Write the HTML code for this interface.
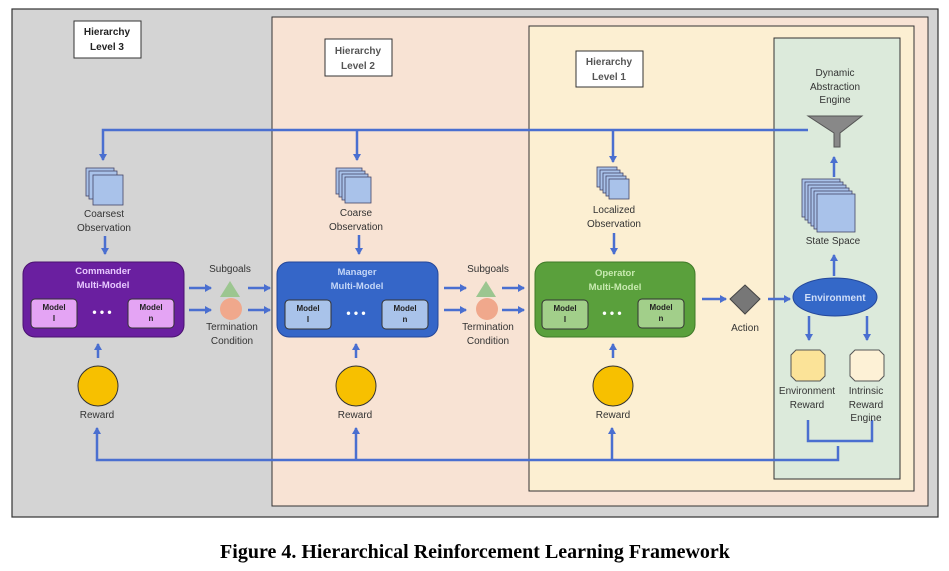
<!DOCTYPE html>
<html><head><style>body{margin:0;background:#fff}svg{display:block}text{font-family:"Liberation Sans",sans-serif}</style></head><body>
<svg width="949" height="571" viewBox="0 0 949 571" xmlns="http://www.w3.org/2000/svg">
<defs><marker id="a" markerWidth="8" markerHeight="8" refX="6" refY="4" orient="auto" markerUnits="userSpaceOnUse"><path d="M0,0 L7,4 L0,8 z" fill="#4a6fd0"/></marker></defs>
<rect x="12" y="9" width="926" height="508" fill="#d4d4d4" stroke="#333" stroke-width="1.2"/>
<rect x="272" y="17" width="656" height="489" fill="#f8e3d4" stroke="#333" stroke-width="1"/>
<rect x="529" y="26" width="385" height="465" fill="#fcefd2" stroke="#333" stroke-width="1"/>
<rect x="774" y="38" width="126" height="441" fill="#dceadb" stroke="#333" stroke-width="1"/>
<g font-size="10" font-weight="bold" text-anchor="middle" fill="#222">
<rect x="74" y="21" width="67" height="37" fill="#fff" stroke="#333"/><text x="107" y="35">Hierarchy</text><text x="107" y="50">Level 3</text>
<rect x="325" y="39" width="67" height="37" fill="#fff" stroke="#333"/><text x="358" y="54" fill="#555">Hierarchy</text><text x="358" y="69" fill="#555">Level 2</text>
<rect x="576" y="51" width="67" height="36" fill="#fff" stroke="#333"/><text x="609" y="65" fill="#555">Hierarchy</text><text x="609" y="80" fill="#555">Level 1</text>
</g>
<g stroke="#4a6fd0" stroke-width="2.5" fill="none">
<path d="M808,130 H103 V160" marker-end="url(#a)"/>
<path d="M357,130 V160" marker-end="url(#a)"/>
<path d="M613,130 V162" marker-end="url(#a)"/>
<path d="M838,446 V460 H97 V428" marker-end="url(#a)"/>
<path d="M808,420 V441 H872 V420"/>
<path d="M356,460 V428" marker-end="url(#a)"/>
<path d="M612,460 V428" marker-end="url(#a)"/>
<path d="M105,236 V254" marker-end="url(#a)"/><path d="M359,235 V254" marker-end="url(#a)"/><path d="M614,233 V254" marker-end="url(#a)"/>
<path d="M98,358 V344" marker-end="url(#a)"/><path d="M356,358 V344" marker-end="url(#a)"/><path d="M613,358 V344" marker-end="url(#a)"/>
<path d="M189,288 H211" marker-end="url(#a)"/><path d="M189,310 H211" marker-end="url(#a)"/>
<path d="M248,288 H270" marker-end="url(#a)"/><path d="M248,310 H270" marker-end="url(#a)"/>
<path d="M444,288 H466" marker-end="url(#a)"/><path d="M444,310 H466" marker-end="url(#a)"/>
<path d="M502,288 H524" marker-end="url(#a)"/><path d="M502,310 H524" marker-end="url(#a)"/>
<path d="M702,299 H726" marker-end="url(#a)"/><path d="M768,299 H790" marker-end="url(#a)"/>
<path d="M834,276 V255" marker-end="url(#a)"/><path d="M834,177 V157" marker-end="url(#a)"/>
<path d="M809,316 V340" marker-end="url(#a)"/><path d="M867,316 V340" marker-end="url(#a)"/>
</g>
<path d="M808,116 H862 L840,133 V147 L834,147 V133 Z" fill="#888" stroke="#555"/>
<g font-size="10" text-anchor="middle" fill="#333">
<text x="835" y="76">Dynamic</text><text x="835" y="90">Abstraction</text><text x="835" y="103">Engine</text>
<text x="104" y="217">Coarsest</text><text x="104" y="231">Observation</text>
<text x="356" y="216">Coarse</text><text x="356" y="230">Observation</text>
<text x="614" y="213">Localized</text><text x="614" y="227">Observation</text>
<text x="833" y="244">State Space</text>
<text x="230" y="272">Subgoals</text><text x="488" y="272">Subgoals</text>
<text x="232" y="330">Termination</text><text x="232" y="344">Condition</text>
<text x="488" y="330">Termination</text><text x="488" y="344">Condition</text>
<text x="745" y="331">Action</text>
<text x="97" y="418">Reward</text><text x="355" y="418">Reward</text><text x="613" y="418">Reward</text>
<text x="807" y="394">Environment</text><text x="807" y="408">Reward</text>
<text x="866" y="394">Intrinsic</text><text x="866" y="408">Reward</text><text x="866" y="421">Engine</text>
</g>
<g stroke="#446" stroke-width="0.8" fill="#a9c2ea">
<rect x="86" y="168" width="28" height="28"/><rect x="89" y="171" width="28" height="28"/><rect x="93" y="175" width="30" height="30"/>
<rect x="336" y="168" width="26" height="26"/><rect x="339" y="171" width="26" height="26"/><rect x="342" y="174" width="26" height="26"/><rect x="345" y="177" width="26" height="26"/>
<rect x="597" y="167" width="20" height="20"/><rect x="600" y="170" width="20" height="20"/><rect x="603" y="173" width="20" height="20"/><rect x="606" y="176" width="20" height="20"/><rect x="609" y="179" width="20" height="20"/>
<rect x="802" y="179" width="38" height="38"/><rect x="805" y="182" width="38" height="38"/><rect x="808" y="185" width="38" height="38"/><rect x="811" y="188" width="38" height="38"/><rect x="814" y="191" width="38" height="38"/><rect x="817" y="194" width="38" height="38"/>
</g>
<rect x="23" y="262" width="161" height="75" rx="12" fill="#6a1fa0" stroke="#4a1070"/>
<rect x="277" y="262" width="161" height="75" rx="12" fill="#3566c8" stroke="#24479a"/>
<rect x="535" y="262" width="160" height="75" rx="12" fill="#5aa03c" stroke="#3f7a28"/>
<g font-size="9.5" font-weight="bold" text-anchor="middle" fill="#e7c8ff">
<text x="103" y="274">Commander</text><text x="103" y="288">Multi-Model</text></g>
<g font-size="9.5" font-weight="bold" text-anchor="middle" fill="#c4d6f7"><text x="357" y="275">Manager</text><text x="357" y="289">Multi-Model</text></g>
<g font-size="9.5" font-weight="bold" text-anchor="middle" fill="#c8eab0"><text x="615" y="276">Operator</text><text x="615" y="290">Multi-Model</text></g>
<g stroke="#333" stroke-width="1">
<rect x="31" y="299" width="46" height="29" rx="4" fill="#e4a4f4"/><rect x="128" y="299" width="46" height="29" rx="4" fill="#e4a4f4"/>
<rect x="285" y="300" width="46" height="29" rx="4" fill="#a9c3ea"/><rect x="382" y="300" width="46" height="29" rx="4" fill="#a9c3ea"/>
<rect x="542" y="300" width="46" height="29" rx="4" fill="#a2cf8a"/><rect x="638" y="299" width="46" height="29" rx="4" fill="#a2cf8a"/>
</g>
<g font-size="8" font-weight="bold" text-anchor="middle" fill="#222">
<text x="54" y="310">Model</text><text x="54" y="321">I</text><text x="151" y="310">Model</text><text x="151" y="321">n</text>
<text x="308" y="311">Model</text><text x="308" y="322">I</text><text x="405" y="311">Model</text><text x="405" y="322">n</text>
<text x="565" y="311">Model</text><text x="565" y="322">I</text><text x="661" y="310">Model</text><text x="661" y="321">n</text>
</g>
<g font-size="12" font-weight="bold" text-anchor="middle" fill="#fff"><text x="102" y="316">• • •</text><text x="356" y="317">• • •</text><text x="612" y="317">• • •</text></g>
<path d="M220,297 L230,281 L240,297 Z" fill="#9cc690"/><circle cx="231" cy="309" r="11" fill="#f0a88c"/>
<path d="M476,297 L486,281 L496,297 Z" fill="#9cc690"/><circle cx="487" cy="309" r="11" fill="#f0a88c"/>
<path d="M745,285 L760,299 L745,314 L730,299 Z" fill="#777" stroke="#444"/>
<ellipse cx="835" cy="297" rx="42" ry="19" fill="#3468c8" stroke="#24479a"/>
<text x="835" y="301" font-size="10" text-anchor="middle" fill="#d0def8" font-weight="bold">Environment</text>
<g stroke="#333" stroke-width="1"><circle cx="98" cy="386" r="20" fill="#f7c000"/><circle cx="356" cy="386" r="20" fill="#f7c000"/><circle cx="613" cy="386" r="20" fill="#f7c000"/></g>
<path d="M796,350 H820 L825,355 V376 L820,381 H796 L791,376 V355 Z" fill="#fbe398" stroke="#555"/>
<path d="M855,350 H879 L884,355 V376 L879,381 H855 L850,376 V355 Z" fill="#fdf1d6" stroke="#555"/>
<text x="475" y="558" font-size="20" font-weight="bold" text-anchor="middle" fill="#000" style="font-family:'Liberation Serif',serif">Figure 4. Hierarchical Reinforcement Learning Framework</text>
</svg>
</body></html>
